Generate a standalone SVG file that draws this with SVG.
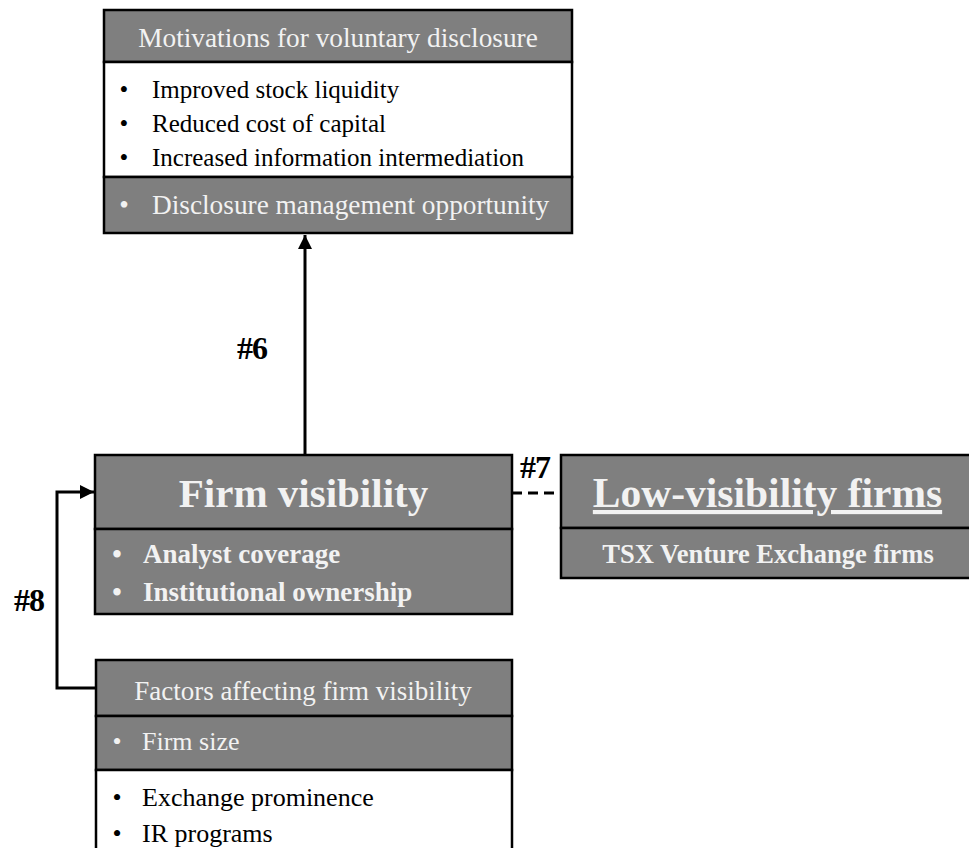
<svg xmlns="http://www.w3.org/2000/svg" width="969" height="848" viewBox="0 0 969 848">
<defs>
<style>
.box{fill:#7f7f7f;stroke:#000;stroke-width:2.5}
.wbox{fill:#fff;stroke:#000;stroke-width:2.5}
.t{font-family:"Liberation Serif","Times New Roman",serif}
.lt{fill:#f2f2f2}
.dk{fill:#000}
.b{font-weight:bold}
.con{fill:none;stroke:#000;stroke-width:3}
.lbl{font-family:"Liberation Serif","Times New Roman",serif;font-weight:bold;font-size:32px;fill:#000;letter-spacing:-1px}
</style>
<marker id="ah" viewBox="0 0 14 14" refX="14" refY="7" markerWidth="14" markerHeight="14" markerUnits="userSpaceOnUse" orient="auto">
<path d="M0,0 L14,7 L0,14 Z" fill="#000"/>
</marker>
</defs>
<rect width="969" height="848" fill="#fff"/>

<g id="connectors">
<line class="con" x1="305" y1="455" x2="305" y2="235" marker-end="url(#ah)"/>
<line class="con" x1="512" y1="493" x2="561" y2="493" stroke-dasharray="10,6"/>
<polyline class="con" points="96,688 57,688 57,492 94,492" marker-end="url(#ah)"/>
<text class="lbl" x="237" y="359">#6</text>
<text class="lbl" x="520" y="478">#7</text>
<text class="lbl" x="14" y="611">#8</text>
</g>

<g id="motivations">
<rect class="box" x="104" y="10" width="468" height="52"/>
<rect class="wbox" x="104" y="62" width="468" height="115"/>
<rect class="box" x="104" y="177" width="468" height="56"/>
<text class="t lt" x="338" y="47" font-size="27.3" text-anchor="middle">Motivations for voluntary disclosure</text>
<g class="t dk" font-size="25">
<text x="124" y="98" text-anchor="middle">•</text><text x="152" y="98">Improved stock liquidity</text>
<text x="124" y="132" text-anchor="middle">•</text><text x="152" y="132">Reduced cost of capital</text>
<text x="124" y="166" text-anchor="middle">•</text><text x="152" y="166">Increased information intermediation</text>
</g>
<g class="t lt" font-size="27.3">
<text x="124" y="214" text-anchor="middle">•</text><text x="152" y="214">Disclosure management opportunity</text>
</g>
</g>

<g id="firm-visibility">
<rect class="box" x="95" y="455" width="417" height="74"/>
<rect class="box" x="95" y="529" width="417" height="85"/>
<text class="t lt b" x="303.5" y="507" font-size="41" text-anchor="middle">Firm visibility</text>
<g class="t lt b" font-size="27">
<text x="117" y="563" text-anchor="middle">•</text><text x="143" y="563">Analyst coverage</text>
<text x="117" y="601" text-anchor="middle">•</text><text x="143" y="601">Institutional ownership</text>
</g>
</g>

<g id="low-visibility">
<rect class="box" x="561" y="455" width="412" height="73"/>
<rect class="box" x="561" y="528" width="412" height="50"/>
<text class="t lt b" x="767.5" y="507" font-size="41.5" text-anchor="middle" text-decoration="underline">Low-visibility firms</text>
<text class="t lt b" x="768" y="563" font-size="26.5" text-anchor="middle">TSX Venture Exchange firms</text>
</g>

<g id="factors">
<rect class="box" x="96" y="660" width="416" height="56"/>
<rect class="box" x="96" y="716" width="416" height="54"/>
<rect class="wbox" x="96" y="770" width="416" height="90"/>
<text class="t lt" x="303" y="700" font-size="27" text-anchor="middle">Factors affecting firm visibility</text>
<g class="t lt" font-size="26">
<text x="117" y="750" text-anchor="middle">•</text><text x="142" y="750">Firm size</text>
</g>
<g class="t dk" font-size="26">
<text x="117" y="806" text-anchor="middle">•</text><text x="142" y="806">Exchange prominence</text>
<text x="117" y="842" text-anchor="middle">•</text><text x="142" y="842">IR programs</text>
</g>
</g>
</svg>
